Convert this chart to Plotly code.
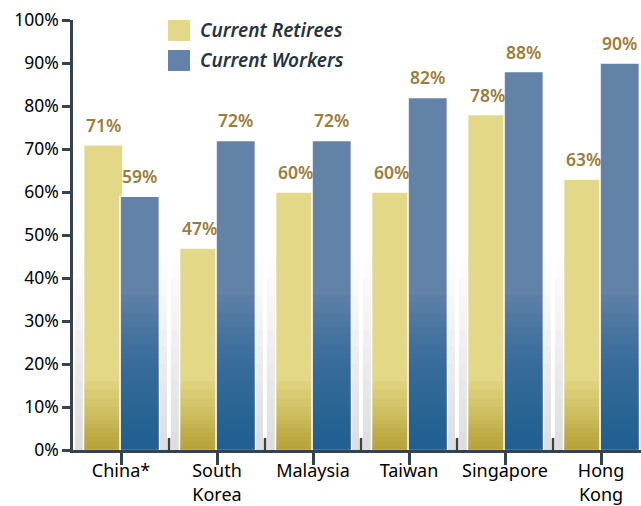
import plotly.graph_objects as go

categories = ["China*", "South<br>Korea", "Malaysia", "Taiwan", "Singapore", "Hong<br>Kong"]
retirees = [71, 47, 60, 60, 78, 63]
workers = [59, 72, 72, 82, 88, 90]
series_names = ["Current Retirees", "Current Workers"]
y_ticks = [0, 10, 20, 30, 40, 50, 60, 70, 80, 90, 100]
y_tick_text = [f"{t}%" for t in y_ticks]

RET_COL = "#e2d887"
WRK_COL = "#6282a8"
RET_DARK = "rgba(165,140,15,0.075)"
WRK_DARK = "rgba(20,90,148,0.056)"
SHADOW = "rgba(0,0,0,0.011)"
LABEL_COL = "#9a7d3c"
AXIS_COL = "#34434f"
FONT = "Noto Sans"

xs = list(range(len(categories)))
fig = go.Figure()

# soft grey shadow behind each group (style only)
shadow_levels = [44, 40, 36, 32, 28, 24, 20, 16, 12, 8, 4]
tops = [max(r, w) for r, w in zip(retirees, workers)]
for h in shadow_levels:
    fig.add_trace(go.Bar(x=xs, y=[min(t, h) for t in tops], width=0.96, offset=-0.48,
                         marker=dict(color=SHADOW, line=dict(width=0)),
                         showlegend=False, hoverinfo="skip"))

ret_levels = [16, 14, 12, 10, 8, 7, 6, 5, 4, 3, 2, 1]
wrk_levels = [36, 34.5, 33, 31.5, 30, 28.5, 27, 25.5, 24, 22.5, 21, 19.5, 18, 16.5, 15,
              13.5, 12, 10.5, 9, 7.5, 6, 4.5, 3, 1.5]

def add_series(vals, color, dark, offset, name, levels):
    fig.add_trace(go.Bar(
        x=xs, y=vals, name=name, width=0.41, offset=offset,
        marker=dict(color=color, line=dict(color="white", width=1.5)),
        showlegend=False, hoverinfo="skip"))
    for h in levels:
        fig.add_trace(go.Bar(
            x=xs, y=[min(v, h) for v in vals], width=0.39, offset=offset + 0.01,
            marker=dict(color=dark, line=dict(width=0)),
            showlegend=False, hoverinfo="skip"))

add_series(retirees, RET_COL, RET_DARK, -0.39, series_names[0], ret_levels)
add_series(workers, WRK_COL, WRK_DARK, -0.01, series_names[1], wrk_levels)

annotations = []
for i, (r, w) in enumerate(zip(retirees, workers)):
    annotations.append(dict(x=i - 0.185, y=r, text=f"{r}%", showarrow=False,
                            yshift=20, xref="x", yref="y",
                            font=dict(family=FONT, size=17.5, color=LABEL_COL, weight=600)))
    annotations.append(dict(x=i + 0.195, y=w, text=f"{w}%", showarrow=False,
                            yshift=20, xref="x", yref="y",
                            font=dict(family=FONT, size=17.5, color=LABEL_COL, weight=600)))

# manual legend
shapes = []
legend_cols = [RET_COL, WRK_COL]
for k, (nm, col) in enumerate(zip(series_names, legend_cols)):
    y0 = 20 + k * 30
    shapes.append(dict(type="rect", xref="paper", yref="paper",
                       x0=(168 - 73) / 568, x1=(190 - 73) / 568,
                       y0=1 - (y0 + 21 - 20) / 430, y1=1 - (y0 - 20) / 430,
                       fillcolor=col, line=dict(width=0)))
    annotations.append(dict(xref="paper", yref="paper", x=(198 - 73) / 568,
                            y=1 - (y0 + 10.5 - 20) / 430, xanchor="left", yanchor="middle",
                            text=f"<i>{nm}</i>", showarrow=False,
                            font=dict(family=FONT, size=19, color="#26343f", weight=600)))

# boundary ticks crossing the axis upward
for i in range(1, len(categories)):
    shapes.append(dict(type="line", xref="x", yref="y", x0=i - 0.5, x1=i - 0.5,
                       y0=0, y1=2.8, line=dict(color=AXIS_COL, width=2.5)))

fig.update_layout(
    width=641, height=506,
    margin=dict(l=73, r=0, t=20, b=56, autoexpand=False),
    plot_bgcolor="white", paper_bgcolor="white",
    barmode="overlay",
    showlegend=False,
    annotations=annotations,
    shapes=shapes,
    font=dict(family=FONT, color="black"),
    xaxis=dict(
        range=[-0.5, -0.5 + 568 / 96],
        tickmode="array", tickvals=xs, ticktext=categories,
        tickson="boundaries", ticks="outside", ticklen=12, tickwidth=2.5, tickcolor=AXIS_COL,
        ticklabelstandoff=-9,
        showline=True, linecolor=AXIS_COL, linewidth=2.5,
        showgrid=False, zeroline=False, automargin=False,
        tickfont=dict(family=FONT, size=18, color="black"),
    ),
    yaxis=dict(
        range=[0, 100],
        tickmode="array", tickvals=y_ticks, ticktext=y_tick_text,
        ticks="outside", ticklen=8, tickwidth=2.5, tickcolor=AXIS_COL,
        showline=True, linecolor=AXIS_COL, linewidth=2.5,
        showgrid=False, zeroline=False, automargin=False,
        tickfont=dict(family=FONT, size=17.5, color="black"),
    ),
)

fig.write_html("out.html", config={"displayModeBar": False},
               post_script="document.body.style.margin='0px';document.body.style.overflow='hidden';")
